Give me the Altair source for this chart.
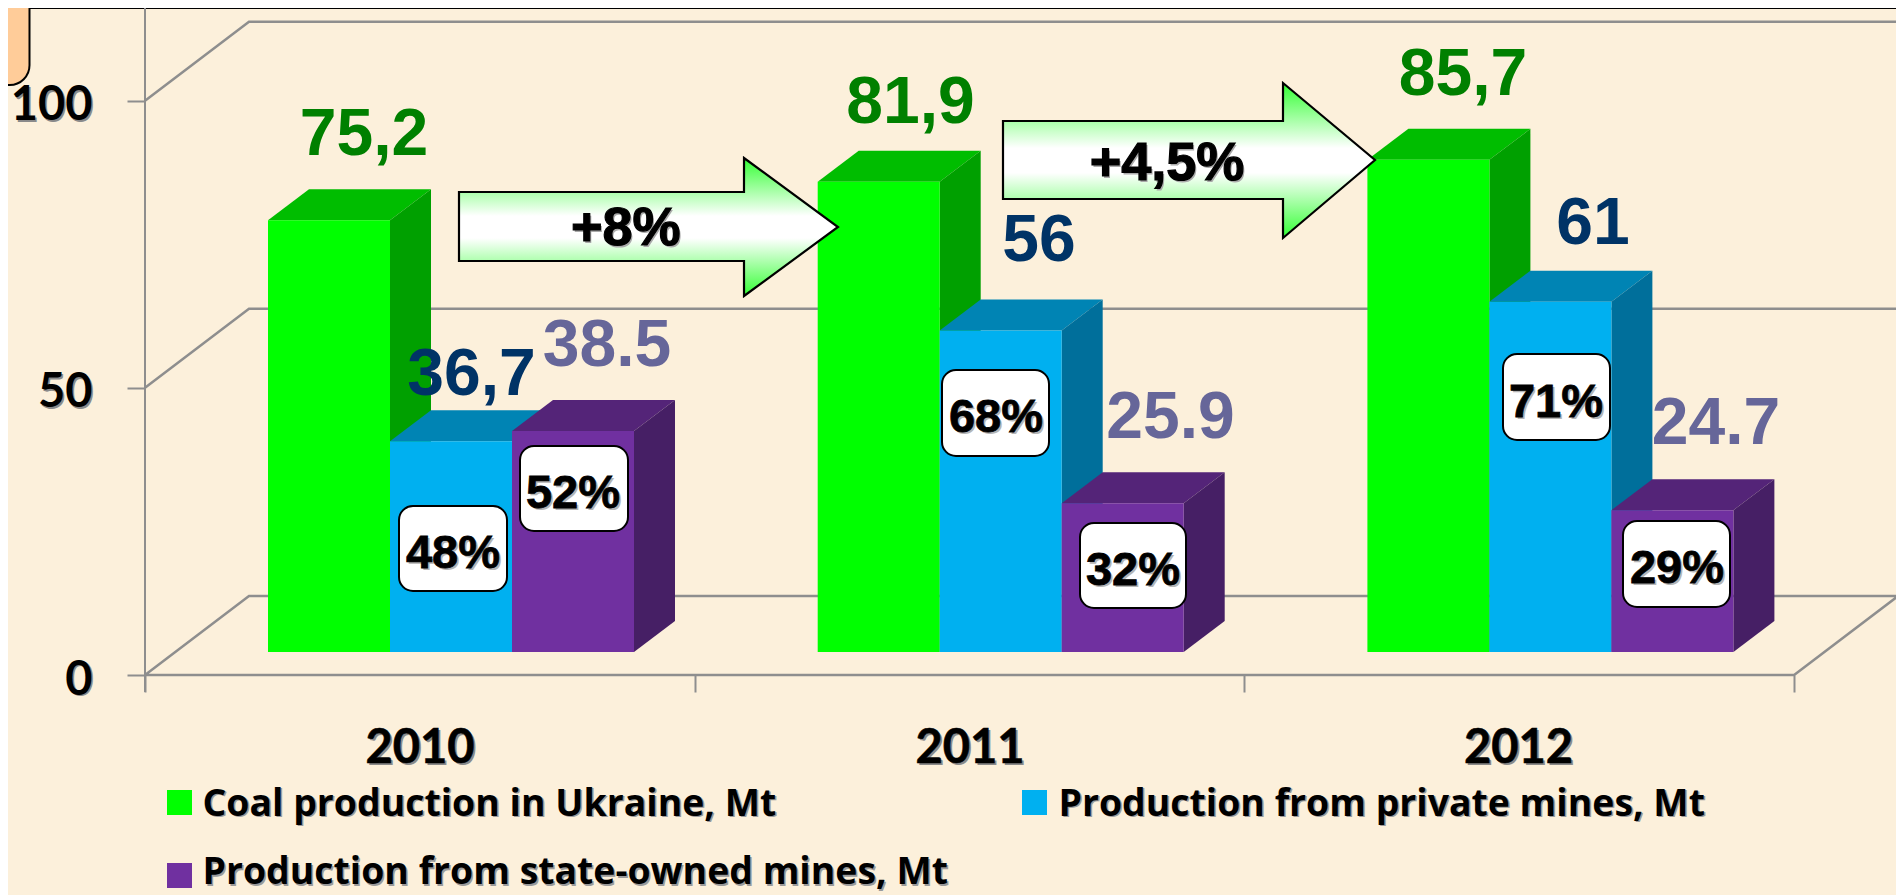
import altair as alt
import pandas as pd

# ---- chart values ----
years = ["2010", "2011", "2012"]
series_names = ["Coal production in Ukraine, Mt", "Production from private mines, Mt", "Production from state-owned mines, Mt"]
coal = [75.2, 81.9, 85.7]
private = [36.7, 56.0, 61.0]
state = [38.5, 25.9, 24.7]
coal_labels = ["75,2", "81,9", "85,7"]
private_labels = ["36,7", "56", "61"]
state_labels = ["38.5", "25.9", "24.7"]
private_shares = ["48%", "68%", "71%"]
state_shares = ["52%", "32%", "29%"]
growth_labels = ["+8%", "+4,5%"]
y_ticks = [0, 50, 100]

# ---- colours ----
BG = "#FCF0DB"
front = ["#00FF00", "#00B0F0", "#7030A0"]
top_c = ["#00BD00", "#0084B4", "#542478"]
side_c = ["#00A000", "#006F9B", "#461F65"]
label_c = ["#008000", "#003366", "#666699"]
GRID = "#8E8E8E"

# ---- layout: conversion between page position and scale units ----
W, H = 1888, 887
CAT = 549.7
UNIT = 5.743
def ux(p): return (p - 145) / CAT
def uy(p): return (675 - p) / UNIT

xs = alt.Scale(domain=[ux(8), ux(8 + W)], nice=False, zero=False)
ys = alt.Scale(domain=[uy(8 + H), uy(8)], nice=False, zero=False)

axis_y = alt.Axis(values=y_ticks, orient="left", offset=-137, domain=False, grid=False, ticks=True,
                  tickSize=18, tickColor=GRID, tickWidth=2, labelFont="Lato", labelFontWeight="bold",
                  labelFontSize=47, labelColor="black", labelPadding=35, labelBaseline="alphabetic",
                  labelOffset=19, zindex=1, title=None)
axis_x = alt.Axis(values=[0, 1, 2, 3], orient="bottom", offset=-(8 + H - 675), domain=False, grid=False,
                  labels=False, tickSize=17, tickColor=GRID, tickWidth=2, zindex=1, title=None)

def X(f="x"): return alt.X(f"{f}:Q", scale=xs, axis=axis_x, title=None)
def Y(f="y"): return alt.Y(f"{f}:Q", scale=ys, axis=axis_y, title=None)

BAR0, BARW = 123 / CAT, 122 / CAT
FLOOR = 23 / UNIT
DX, DY = 41 / CAT, 31 / UNIT
WX, WY = 104 / CAT, 79 / UNIT

layers = []

# top strip and corner tab
strip = pd.DataFrame({"x": [ux(-10)], "x2": [ux(1920)], "y": [uy(-10)], "y2": [uy(8)]})
layers.append(alt.Chart(strip).mark_rect(fill="#FFCC99", stroke="black", strokeWidth=2).encode(
    x=X("x"), x2="x2", y=Y("y"), y2="y2"))
tab = pd.DataFrame({"x": [ux(-10)], "x2": [ux(29.5)], "y": [uy(-10)], "y2": [uy(85)]})
layers.append(alt.Chart(tab).mark_rect(fill="#FFCC99", stroke="black", strokeWidth=2, cornerRadiusBottomRight=24).encode(
    x=X("x"), x2="x2", y=Y("y"), y2="y2"))

# y axis line
vline = pd.DataFrame({"x": [0.0], "y": [uy(692)], "y2": [uy(8)]})
layers.append(alt.Chart(vline).mark_rule(color=GRID, strokeWidth=2).encode(x=X(), y=Y(), y2="y2"))

# walls and floor
wall_rows = []
for v in y_ticks[1:]:
    wall_rows += [dict(g=v, o=0, x=0.0, y=v), dict(g=v, o=1, x=WX, y=v + WY), dict(g=v, o=2, x=3 + WX + 0.004, y=v + WY)]
for o, (a, b) in enumerate([(0, 0), (WX, WY), (3 + WX, WY), (3, 0), (0, 0)]):
    wall_rows.append(dict(g=0, o=o, x=a, y=b))
layers.append(alt.Chart(pd.DataFrame(wall_rows)).mark_line(color=GRID, strokeWidth=2.5).encode(
    x=X(), y=Y(), detail="g:N", order="o:Q"))

# bars
for k, vals in enumerate([coal, private, state]):
    faces_top, faces_side, faces_front = [], [], []
    for i, v in enumerate(vals):
        x0 = i + BAR0 + k * BARW
        x1 = x0 + BARW
        t = v + FLOOR
        faces_top += [dict(g=i, y=t, x=x0, x2=x1), dict(g=i, y=t + DY, x=x0 + DX, x2=x1 + DX)]
        faces_side += [dict(g=i, x=x1, y=t, y2=FLOOR), dict(g=i, x=x1 + DX, y=t + DY, y2=FLOOR + DY)]
        faces_front.append(dict(x=x0, x2=x1, y=t, y2=FLOOR))
    layers.append(alt.Chart(pd.DataFrame(faces_top)).mark_area(orient="horizontal", color=top_c[k]).encode(
        y=Y(), x=X("x"), x2="x2", detail="g:N"))
    layers.append(alt.Chart(pd.DataFrame(faces_side)).mark_area(orient="vertical", color=side_c[k]).encode(
        x=X(), y=Y("y"), y2="y2", detail="g:N"))
    layers.append(alt.Chart(pd.DataFrame(faces_front)).mark_rect(color=front[k]).encode(
        x=X("x"), x2="x2", y=Y("y"), y2="y2"))

# growth arrows
arrow_grad = alt.Gradient(gradient="linear", x1=0, x2=0, y1=0, y2=1, stops=[
    alt.GradientStop(color="#33FF33", offset=0), alt.GradientStop(color="#FFFFFF", offset=0.42),
    alt.GradientStop(color="#FFFFFF", offset=0.58), alt.GradientStop(color="#33FF33", offset=1)])
arrow_geo = [
    (459, 744, 838, 192, 261, 158, 296, 227),
    (1003, 1283, 1375, 121, 199, 83, 238, 160),
]
for g, (l, n, tip, bt, bb, ht, hb, ty) in enumerate(arrow_geo):
    rows = [dict(x=ux(l), y=uy(bt), y2=uy(bb)), dict(x=ux(n), y=uy(bt), y2=uy(bb)),
            dict(x=ux(n + 0.02), y=uy(ht), y2=uy(hb)), dict(x=ux(tip), y=uy(ty), y2=uy(ty))]
    layers.append(alt.Chart(pd.DataFrame(rows)).mark_area(orient="vertical", fill=arrow_grad, stroke="black",
                                                          strokeWidth=2.2).encode(
        x=X(), y=Y("y"), y2="y2"))

# percent boxes
box_geo = [(399, 507, 506, 591), (942, 1049, 370, 456), (1503, 1610, 354, 440),
           (520, 628, 446, 531), (1080, 1186, 523, 608), (1623, 1730, 521, 607)]
boxes = pd.DataFrame([dict(x=ux(a), x2=ux(b), y=uy(c), y2=uy(d)) for a, b, c, d in box_geo])
layers.append(alt.Chart(boxes).mark_rect(fill="white", stroke="black", strokeWidth=2, cornerRadius=14).encode(
    x=X("x"), x2="x2", y=Y("y"), y2="y2"))

def text(labels, xp, yp, font, size, color, shadow=None, align="center", off=2, heavy=0):
    df = pd.DataFrame({"x": [ux(p) for p in xp], "y": [uy(p) for p in yp], "t": labels})
    out = []
    if shadow:
        out.append(alt.Chart(df).mark_text(font=font, fontSize=size, fontWeight="bold", color=shadow, align=align,
                                           baseline="alphabetic", dx=off, dy=off).encode(x=X(), y=Y(), text="t:N"))
    props = dict(stroke=color, strokeWidth=heavy) if heavy else {}
    out.append(alt.Chart(df).mark_text(font=font, fontSize=size, fontWeight="bold", color=color, align=align,
                                       baseline="alphabetic", **props).encode(x=X(), y=Y(), text="t:N"))
    return out

ARIAL = "Liberation Sans"
layers += text(coal_labels, [364, 910.5, 1463], [155, 122.7, 95], ARIAL, 66, label_c[0])
layers += text(private_labels, [471.6, 1039, 1593], [395, 261, 244], ARIAL, 66, label_c[1])
layers += text(state_labels, [607, 1170.6, 1716], [365.7, 438, 444], ARIAL, 66, label_c[2])
layers += text(private_shares, [453, 996, 1556], [568, 432, 416.5], ARIAL, 47, "black", shadow="#B5B5B5", heavy=0.8)
layers += text(state_shares, [573, 1133, 1677], [507.7, 585, 583], ARIAL, 47, "black", shadow="#B5B5B5", heavy=0.8)
layers += text(growth_labels, [625.7, 1167], [245, 180], ARIAL, 54, "black", shadow="#AAAAAA", off=1.5, heavy=1.2)

# y tick-label shadow (labels themselves come from the axis) and year labels
tick_shadow = pd.DataFrame({"x": [ux(92)] * 3, "y": y_ticks, "t": [str(v) for v in y_ticks]})
layers.append(alt.Chart(tick_shadow).mark_text(font="Lato", fontSize=47, fontWeight="bold", color="#8A8A8A",
                                               align="right", baseline="alphabetic", dx=2, dy=21).encode(
    x=X(), y=Y(), text="t:N"))
layers += text(years, [420, 970, 1518.5], [762.7] * 3, "Lato", 47, "black", shadow="#8A8A8A", heavy=0.6)

# legend
swatches = pd.DataFrame([dict(x=ux(a), x2=ux(a + w), y=uy(b), y2=uy(b + 25), c=front[i])
                         for i, (a, w, b) in enumerate([(167, 25, 790), (1022, 25, 790), (167, 25, 863)])])
layers.append(alt.Chart(swatches).mark_rect().encode(
    x=X("x"), x2="x2", y=Y("y"), y2="y2", color=alt.Color("c:N", scale=None)))
layers += text(series_names, [202.5, 1058.5, 202.5], [815.7, 815.7, 884], "Open Sans", 37.4, "black", shadow="#9A9A9A",
               align="left", off=1.5)

chart = alt.layer(*layers).properties(
    width=W, height=H, padding=0, background=BG,
    autosize=alt.AutoSizeParams(type="none", contains="content"),
).configure_view(stroke=None)

chart.save("out.html", embed_options={"renderer": "svg", "actions": False})
